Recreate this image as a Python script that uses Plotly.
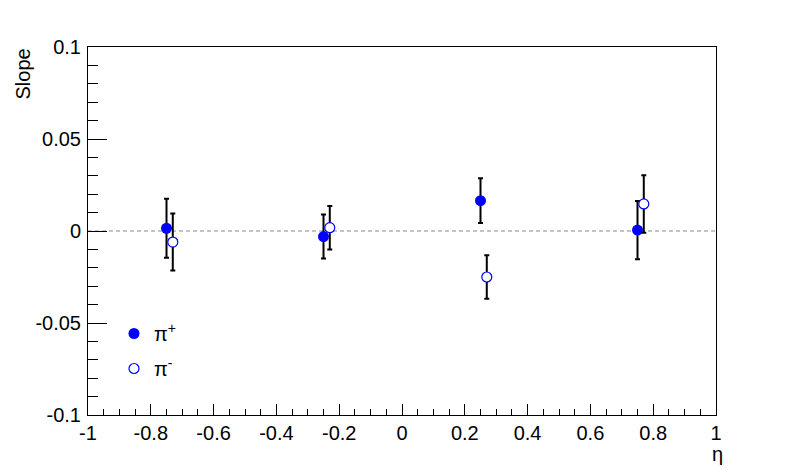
import plotly.graph_objects as go

# pi+ (filled)
eta_pos = [-0.75, -0.25, 0.25, 0.75]
slope_pos = [0.0015, -0.003, 0.0165, 0.0005]
err_pos = [0.016, 0.012, 0.0122, 0.0158]

# pi- (open)
eta_neg = [-0.73, -0.23, 0.27, 0.77]
slope_neg = [-0.006, 0.0018, -0.025, 0.0147]
err_neg = [0.0155, 0.0118, 0.0118, 0.0156]

x_ticks = [-1, -0.8, -0.6, -0.4, -0.2, 0, 0.2, 0.4, 0.6, 0.8, 1]
x_tick_labels = ["-1", "-0.8", "-0.6", "-0.4", "-0.2", "0", "0.2", "0.4", "0.6", "0.8", "1"]
y_ticks = [-0.1, -0.05, 0, 0.05, 0.1]
y_tick_labels = ["-0.1", "-0.05", "0", "0.05", "0.1"]

FONT = "Liberation Sans, Arial, Helvetica, sans-serif"
FS = 20

# page body has an 8px margin: plot area lands at page x 88..716, y 47..415
W, H = 788, 464
ML, MR, MT, MB = 80, 80, 39, 57
PW = W - ML - MR   # 628
PH = H - MT - MB   # 368
OFF = 8

def px_x(page_x):
    return (page_x - OFF - ML) / PW

def px_y(page_y):
    return 1.0 - (page_y - OFF - MT) / PH

fig = go.Figure()

# zero reference line
fig.add_trace(go.Scatter(
    x=[-1, 1], y=[0, 0], mode="lines",
    line=dict(color="#c4c4c4", width=2, dash="4px,3px"),
    showlegend=False, hoverinfo="skip"))

fig.add_trace(go.Scatter(
    x=eta_pos, y=slope_pos, mode="markers", name="π<sup>+</sup>",
    legendgroup="a",
    marker=dict(symbol="circle", size=11, color="#0000ff", line=dict(width=0)),
    error_y=dict(type="data", array=err_pos, color="black", thickness=2, width=2.5)))

fig.add_trace(go.Scatter(
    x=eta_neg, y=slope_neg, mode="markers", name="π<sup>-</sup>",
    legendgroup="b",
    marker=dict(symbol="circle", size=10, color="white", line=dict(width=1.2, color="#0000ff")),
    error_y=dict(type="data", array=err_neg, color="black", thickness=2, width=2.5)))

fig.update_layout(
    width=W, height=H,
    margin=dict(l=ML, r=MR, t=MT, b=MB),
    paper_bgcolor="white", plot_bgcolor="white",
    font=dict(family=FONT, size=FS, color="black"),
    legend=dict(x=px_x(114), y=px_y(314), xanchor="left", yanchor="top",
                bgcolor="rgba(0,0,0,0)", tracegroupgap=6,
                font=dict(size=FS), itemwidth=30),
    annotations=[
        dict(text="Slope", x=px_x(22), y=px_y(47), xref="paper", yref="paper",
             showarrow=False, textangle=-90, font=dict(size=FS),
             xanchor="center", yanchor="top"),
        dict(text="η", x=px_x(725), y=px_y(441), xref="paper", yref="paper",
             showarrow=False, font=dict(size=FS),
             xanchor="right", yanchor="top"),
    ],
)

fig.update_xaxes(
    range=[-1, 1], tickvals=x_ticks, ticktext=x_tick_labels,
    ticks="inside", ticklen=11, tickwidth=1, tickcolor="black",
    minor=dict(dtick=0.05, tick0=-1, ticks="inside", ticklen=6, tickcolor="black", tickwidth=1),
    showline=True, linecolor="black", linewidth=1, mirror=True,
    showgrid=False, zeroline=False, tickfont=dict(size=FS))
fig.update_yaxes(
    range=[-0.1, 0.1], tickvals=y_ticks, ticktext=y_tick_labels,
    ticks="inside", ticklen=19, tickwidth=1, tickcolor="black",
    minor=dict(dtick=0.01, tick0=-0.1, ticks="inside", ticklen=10, tickcolor="black", tickwidth=1),
    showline=True, linecolor="black", linewidth=1, mirror=True,
    showgrid=False, zeroline=False, tickfont=dict(size=FS), ticklabelstandoff=2)

fig.write_html("out.html")
